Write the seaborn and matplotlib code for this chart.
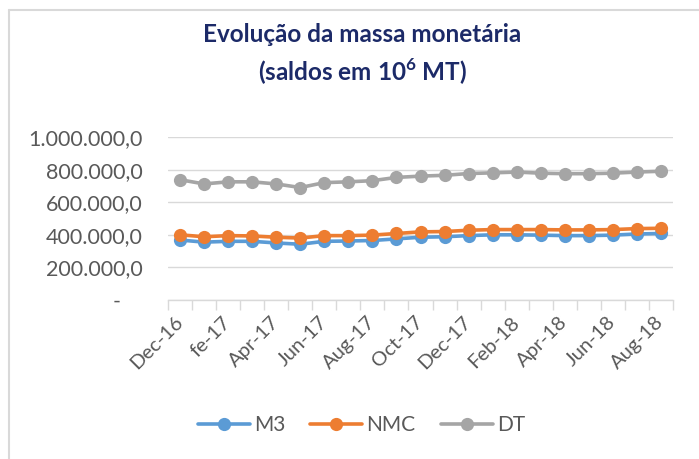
import numpy as np
import pandas as pd
import matplotlib
matplotlib.use("Agg")
import matplotlib.pyplot as plt
import seaborn as sns
from matplotlib.lines import Line2D
from matplotlib.ticker import FixedLocator

# dados (saldos em 10^6 MT), Dec-16 .. Aug-18, mensal
meses = ["Dec-16", "Jan-17", "fe-17", "Mar-17", "Apr-17", "May-17", "Jun-17",
         "Jul-17", "Aug-17", "Sep-17", "Oct-17", "Nov-17", "Dec-17", "Jan-18",
         "Feb-18", "Mar-18", "Apr-18", "May-18", "Jun-18", "Jul-18", "Aug-18"]
m3 = [368000, 355000, 360000, 360000, 350000, 342000, 360000, 362000, 365000, 375000,
      385000, 388000, 395000, 400000, 400000, 398000, 395000, 395000, 398000, 405000, 408000]
nmc = [400000, 388000, 395000, 393000, 385000, 380000, 395000, 395000, 398000, 408000,
       418000, 420000, 428000, 432000, 432000, 432000, 430000, 430000, 432000, 438000, 440000]
dt = [738000, 712000, 725000, 725000, 712000, 690000, 720000, 725000, 732000, 752000,
      760000, 765000, 776000, 780000, 785000, 778000, 775000, 775000, 778000, 785000, 790000]
series = {"M3": m3, "NMC": nmc, "DT": dt}
cores = {"M3": "#5b9bd5", "NMC": "#ed7d31", "DT": "#a5a5a5"}
y_ticks = [0, 200000, 400000, 600000, 800000, 1000000]
y_labels = ["-    ", "200.000,0", "400.000,0", "600.000,0", "800.000,0", "1.000.000,0"]

sns.set_style("white")
plt.rcParams["font.family"] = ["Lato", "DejaVu Sans"]
plt.rcParams["mathtext.fontset"] = "custom"
plt.rcParams["mathtext.rm"] = "Lato:bold"
plt.rcParams["mathtext.bf"] = "Lato:bold"

fig = plt.figure(figsize=(6.99, 4.59), dpi=100)
ax = fig.add_axes([168 / 699, 1 - 300 / 459, (673 - 168) / 699, (300 - 137) / 459])

x = np.arange(len(meses))
for nome, valores in series.items():
    df = pd.DataFrame({"x": x, "valor": valores})
    sns.lineplot(data=df, x="x", y="valor", ax=ax, color=cores[nome], label=nome,
                 linewidth=2.6, marker="o", markersize=9.5, markeredgewidth=0)

handles, labels = ax.get_legend_handles_labels()
if ax.get_legend() is not None:
    ax.get_legend().remove()

ax.set_xlim(-0.5, len(meses) - 0.5)
ax.set_ylim(0, 1000000)
ax.set_yticks(y_ticks)
ax.set_yticklabels(y_labels)
ax.set_xticks(x[::2])
ax.set_xticklabels(meses[::2], rotation=45, ha="right", va="center", rotation_mode="anchor")
ax.xaxis.set_minor_locator(FixedLocator(np.arange(-0.5, len(meses), 1)))
ax.tick_params(axis="x", which="major", length=0, pad=14, labelsize=14.5, labelcolor="#595959")
ax.tick_params(axis="x", which="minor", length=7, width=1, color="#d9d9d9", bottom=True)
ax.tick_params(axis="y", length=0, pad=18, labelsize=15.5, labelcolor="#595959")
ax.set_xlabel("")
ax.set_ylabel("")
ax.grid(axis="y", color="#d9d9d9", linewidth=1)
ax.set_axisbelow(True)
for s in ["top", "right", "left"]:
    ax.spines[s].set_visible(False)
ax.spines["bottom"].set_color("#d9d9d9")
ax.spines["bottom"].set_linewidth(1)

fig.text(0.518, 1 - 35 / 459, "Evolução da massa monetária", ha="center", va="center",
         fontsize=17.5, fontweight="bold", color="#1c2a68")
fig.text(0.518, 1 - 72 / 459, r"(saldos em 10$^{6}$ MT)", ha="center", va="center",
         fontsize=17.5, fontweight="bold", color="#1c2a68")

fig.legend(handles, labels, loc="center", bbox_to_anchor=(0.517, 1 - 425 / 459), ncol=3,
           frameon=False, fontsize=15, labelcolor="#595959", handlelength=2.5,
           handletextpad=0.2, columnspacing=1.2)

# moldura do gráfico
fig.add_artist(Line2D([9 / 699, 9 / 699], [0, 1 - 10 / 459], color="#d9d9d9", linewidth=1.5))
fig.add_artist(Line2D([9 / 699, 1], [1 - 10 / 459, 1 - 10 / 459], color="#d9d9d9", linewidth=1.5))

fig.savefig("out.png", dpi=100)
